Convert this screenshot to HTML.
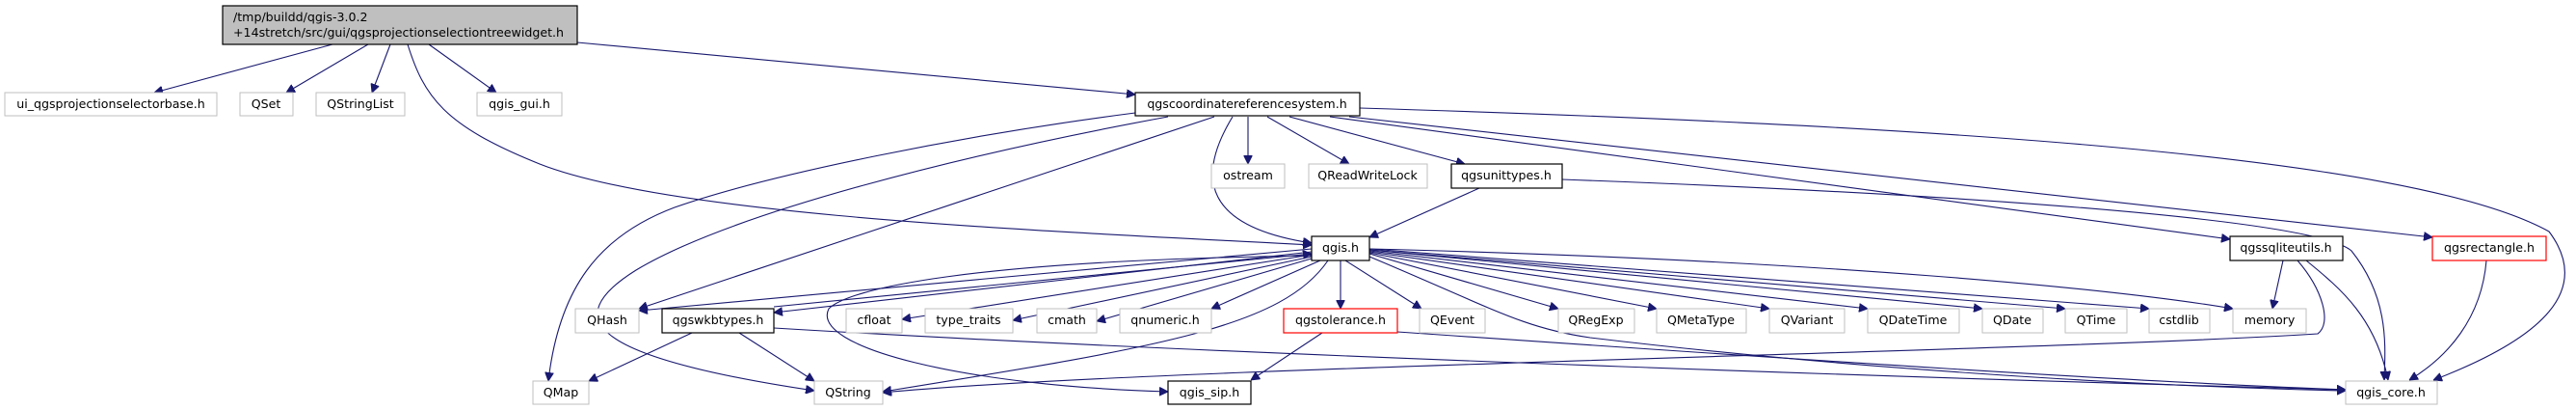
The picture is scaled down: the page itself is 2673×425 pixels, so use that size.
<!DOCTYPE html>
<html><head><meta charset="utf-8"><style>
html,body{margin:0;padding:0;background:#fff;}
svg{display:block;}
text{font-family:"DejaVu Sans","Liberation Sans",sans-serif;font-size:12.6px;fill:#000;}
.e{fill:none;stroke:#191970;stroke-width:1.1;}
.g{fill:#fff;stroke:#bfbfbf;stroke-width:1;}
.b{fill:#fff;stroke:#000;stroke-width:1.2;}
.r{fill:#fff;stroke:#ff0000;stroke-width:1.2;}
</style></head><body>
<svg width="2673" height="425" viewBox="0 0 2673 425" xmlns="http://www.w3.org/2000/svg">
<defs><marker id="a" viewBox="0 0 10 10" refX="10" refY="5" markerWidth="9" markerHeight="9" markerUnits="userSpaceOnUse" orient="auto"><path d="M0,0L10,5L0,10z" fill="#191970" stroke="#191970"/></marker></defs>
<g marker-end="url(#a)">
<!-- main -->
<path class="e" d="M345,46L160,96"/>
<path class="e" d="M382,46L297,96"/>
<path class="e" d="M405,46L386,96"/>
<path class="e" d="M445,46L515,96"/>
<path class="e" d="M599,44L1178,98"/>
<path class="e" d="M423,46C440,100 460,130 560,170C700,225 1100,240 1361,254"/>
<!-- crs -->
<path class="e" d="M1178,117C1000,140 800,180 700,215C620,245 580,300 569,395"/>
<path class="e" d="M1212,121C1000,160 760,220 660,280C580,330 610,370 845,405"/>
<path class="e" d="M1260,121L663,320"/>
<path class="e" d="M1279,121C1240,185 1250,235 1361,252"/>
<path class="e" d="M1295,121L1295,170"/>
<path class="e" d="M1315,121L1400,170"/>
<path class="e" d="M1338,121L1520,170"/>
<path class="e" d="M1380,121L2314,248"/>
<path class="e" d="M1400,121L2524,246"/>
<path class="e" d="M1411,112C2000,130 2500,160 2645,240C2690,300 2640,350 2525,394"/>
<path class="e" d="M1621,186C2000,200 2400,225 2440,260C2480,310 2475,360 2474,394"/>
<!-- qgsunittypes -->
<path class="e" d="M1535,195L1421,246"/>
<!-- qgis.h -->
<path class="e" d="M1361,258L663,322"/>
<path class="e" d="M1361,261L803,324"/>
<path class="e" d="M803,318L1361,263"/>
<path class="e" d="M1361,264L936,331"/>
<path class="e" d="M1361,266L1051,332"/>
<path class="e" d="M1361,268L1138,333"/>
<path class="e" d="M1370,270L1257,320"/>
<path class="e" d="M1391,270L1391,320"/>
<path class="e" d="M1396,270L1475,320"/>
<path class="e" d="M1421,263L1617,320"/>
<path class="e" d="M1421,262L1719,320"/>
<path class="e" d="M1421,261L1836,320"/>
<path class="e" d="M1421,260L1938,320"/>
<path class="e" d="M1421,259L2057,320"/>
<path class="e" d="M1421,259L2143,320"/>
<path class="e" d="M1421,258L2230,320"/>
<path class="e" d="M1421,258C1900,270 2200,300 2317,320"/>
<path class="e" d="M1378,270C1330,340 1200,360 916,406"/>
<path class="e" d="M1361,265C1000,270 880,300 860,320C840,360 1000,400 1212,406"/>
<path class="e" d="M1421,266C1550,320 1580,340 1650,350C1900,380 2200,400 2434,405"/>
<!-- qgswkbtypes -->
<path class="e" d="M718,345L611,395"/>
<path class="e" d="M767,345L845,395"/>
<path class="e" d="M803,340C1300,370 2100,395 2434,404"/>
<!-- qgstolerance -->
<path class="e" d="M1372,345L1298,394"/>
<path class="e" d="M1450,344C1900,375 2200,395 2434,404"/>
<!-- sqlite -->
<path class="e" d="M2369,270L2358,320"/>
<path class="e" d="M2384,270C2410,300 2420,335 2405,346C2100,365 1200,380 916,407"/>
<path class="e" d="M2393,270C2430,300 2465,330 2478,394"/>
<!-- rectangle -->
<path class="e" d="M2580,270C2575,330 2540,370 2500,394"/>
</g>
<!-- nodes -->
<rect x="231" y="6" width="368" height="40" fill="#bfbfbf" stroke="#000" stroke-width="1.2"/>
<text x="242" y="22">/tmp/buildd/qgis-3.0.2</text>
<text x="242" y="38">+14stretch/src/gui/qgsprojectionselectiontreewidget.h</text>

<rect class="g" x="5" y="96" width="220" height="24"/><text x="115" y="112" text-anchor="middle">ui_qgsprojectionselectorbase.h</text>
<rect class="g" x="249" y="96" width="55" height="24"/><text x="276" y="112" text-anchor="middle">QSet</text>
<rect class="g" x="328" y="96" width="92" height="24"/><text x="374" y="112" text-anchor="middle">QStringList</text>
<rect class="g" x="495" y="96" width="88" height="24"/><text x="539" y="112" text-anchor="middle">qgis_gui.h</text>
<rect class="b" x="1178" y="96" width="233" height="24"/><text x="1294" y="112" text-anchor="middle">qgscoordinatereferencesystem.h</text>

<rect class="g" x="1257" y="170" width="76" height="25"/><text x="1295" y="186" text-anchor="middle">ostream</text>
<rect class="g" x="1358" y="170" width="123" height="25"/><text x="1419" y="186" text-anchor="middle">QReadWriteLock</text>
<rect class="b" x="1506" y="170" width="115" height="25"/><text x="1563" y="186" text-anchor="middle">qgsunittypes.h</text>

<rect class="b" x="1361" y="245" width="60" height="25"/><text x="1391" y="261" text-anchor="middle">qgis.h</text>
<rect class="b" x="2314" y="245" width="117" height="25"/><text x="2372" y="261" text-anchor="middle">qgssqliteutils.h</text>
<rect class="r" x="2524" y="245" width="118" height="25"/><text x="2583" y="261" text-anchor="middle">qgsrectangle.h</text>

<rect class="g" x="597" y="320" width="66" height="25"/><text x="630" y="336" text-anchor="middle">QHash</text>
<rect class="b" x="687" y="320" width="116" height="25"/><text x="745" y="336" text-anchor="middle">qgswkbtypes.h</text>
<rect class="g" x="878" y="320" width="58" height="25"/><text x="907" y="336" text-anchor="middle">cfloat</text>
<rect class="g" x="960" y="320" width="91" height="25"/><text x="1005" y="336" text-anchor="middle">type_traits</text>
<rect class="g" x="1076" y="320" width="62" height="25"/><text x="1107" y="336" text-anchor="middle">cmath</text>
<rect class="g" x="1162" y="320" width="95" height="25"/><text x="1209" y="336" text-anchor="middle">qnumeric.h</text>
<rect class="r" x="1332" y="320" width="118" height="25"/><text x="1391" y="336" text-anchor="middle">qgstolerance.h</text>
<rect class="g" x="1473" y="320" width="68" height="25"/><text x="1507" y="336" text-anchor="middle">QEvent</text>
<rect class="g" x="1617" y="320" width="79" height="25"/><text x="1656" y="336" text-anchor="middle">QRegExp</text>
<rect class="g" x="1719" y="320" width="93" height="25"/><text x="1765" y="336" text-anchor="middle">QMetaType</text>
<rect class="g" x="1836" y="320" width="78" height="25"/><text x="1875" y="336" text-anchor="middle">QVariant</text>
<rect class="g" x="1938" y="320" width="95" height="25"/><text x="1985" y="336" text-anchor="middle">QDateTime</text>
<rect class="g" x="2057" y="320" width="63" height="25"/><text x="2088" y="336" text-anchor="middle">QDate</text>
<rect class="g" x="2143" y="320" width="64" height="25"/><text x="2175" y="336" text-anchor="middle">QTime</text>
<rect class="g" x="2230" y="320" width="63" height="25"/><text x="2261" y="336" text-anchor="middle">cstdlib</text>
<rect class="g" x="2317" y="320" width="76" height="25"/><text x="2355" y="336" text-anchor="middle">memory</text>

<rect class="g" x="553" y="395" width="58" height="24"/><text x="582" y="411" text-anchor="middle">QMap</text>
<rect class="g" x="845" y="395" width="71" height="24"/><text x="880" y="411" text-anchor="middle">QString</text>
<rect class="b" x="1212" y="395" width="86" height="24"/><text x="1255" y="411" text-anchor="middle">qgis_sip.h</text>
<rect class="g" x="2434" y="395" width="95" height="24"/><text x="2481" y="411" text-anchor="middle">qgis_core.h</text>
</svg>
</body></html>
